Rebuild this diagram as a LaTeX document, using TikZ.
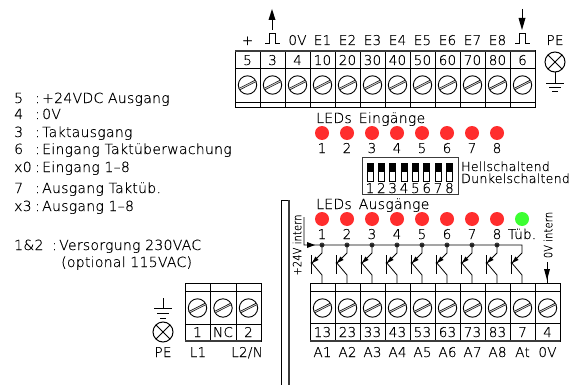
\documentclass[tikz,border=0pt]{standalone}
\usepackage{fontspec}
\setmainfont[UprightFont={* ExtraLight},UprightFeatures={FakeBold=0.35},LetterSpace=2]{DejaVu Sans}
\usetikzlibrary{calc}
\definecolor{ledred}{RGB}{255,45,45}
\definecolor{ledgreen}{RGB}{60,255,50}
\definecolor{edge}{RGB}{60,60,60}
\tikzset{
 wire/.style={line width=.8pt,black},
 lbl/.style={inner sep=0pt,text height=10pt,text depth=0pt,font=\fontsize{13.5}{14}\selectfont},
 lft/.style={lbl,anchor=west,font=\fontsize{14}{15}\selectfont},
 dipl/.style={lbl,anchor=west,font=\fontsize{12.6}{14}\selectfont},
 rot/.style={inner sep=0pt,rotate=90,font=\fontsize{11.5}{12}\selectfont},
 led/.style={circle,inner sep=0pt,minimum size=14pt,fill=ledred},
 gled/.style={led,fill=ledgreen},
 dot/.style={circle,inner sep=0pt,minimum size=5pt,fill=edge},
}
\newcommand{\screw}[2]{%
 \draw[line width=.9pt] (#1,#2) circle (9.2);
 \draw[line width=2.2pt,black] ($(#1,#2)+(-8.3,4.2)$) -- ($(#1,#2)+(8.3,-4.2)$);
 \draw[line width=.9pt,white!80!black] ($(#1,#2)+(-8,4)$) -- ($(#1,#2)+(8,-4)$);
}
\newcommand{\lamp}[2]{%
 \draw[line width=1pt] (#1,#2) circle (10);
 \draw[line width=1pt] ($(#1,#2)+(-7,-7)$) -- ($(#1,#2)+(7,7)$);
 \draw[line width=1pt] ($(#1,#2)+(-7,7)$) -- ($(#1,#2)+(7,-7)$);
}
\newcommand{\trans}[1]{%
 \draw[wire] (#1,245) -- (#1,253) -- (#1-11,264);
 \draw[wire] (#1-11,255) -- (#1-11,274);
 \draw[wire] (#1-11,262) -- (#1,275) -- (#1,283);
 \fill[black] (#1-10,263) -- (#1-3.5,260) -- (#1-6.5,256.5) -- cycle;
}
\begin{document}
\begin{tikzpicture}[x=1pt,y=-1pt,line join=miter]
\useasboundingbox (0,0) rectangle (583,385);
\fill[white] (0,0) rectangle (583,385);
% left legend
\foreach \k/\v/\y in {5/+24VDC Ausgang/98,4/0V/114,3/Taktausgang/132,6/Eingang Taktüberwachung/149,x0/Eingang 1--8/167,7/Ausgang Taktüb./188,x3/Ausgang 1--8/206}{
 \node[lft] (k\y) at (14,\y) {\k};
 \node[lft] (c\y) at (35,\y) {:};
 \node[lft] (v\y) at (42,\y) {\v};
}
\node[lft] (p0) at (14,245) {1\&2};
\node[lft] (p00) at (52,245) {:};
\node[lft] (p1) at (59,245) {Versorgung 230VAC};
\node[lft] (p2) at (61,262) {(optional 115VAC)};
% top strip
\draw[wire,line width=1pt] (235,51) rectangle (535,108);
\draw[wire] (235,68) -- (535,68);
\draw[wire] (235,102) -- (535,102);
\foreach \i in {1,...,11}{\draw[wire] (235+25*\i,51) -- (235+25*\i,108);}
\draw[edge,line width=1.2pt] (235,51) -- (535,51);
\foreach \n/\t [count=\i from 0] in {5/+,3/,4/0V,10/E1,20/E2,30/E3,40/E4,50/E5,60/E6,70/E7,80/E8,6/}{
 \pgfmathsetmacro{\cx}{247.5+25*\i}
 \node[lbl] (tn\i) at (\cx,60) {\n};
 \node[lbl] (tt\i) at (\cx,40) {\t};
 \screw{\cx}{85}
}
\draw[wire] (265,43) -- (269,43) -- (269,33) -- (275,33) -- (275,43) -- (280,43);
\draw[wire] (515,43) -- (519,43) -- (519,33) -- (525,33) -- (525,43) -- (530,43);
\draw[wire] (272,30) -- (272,14);
\fill (272,9) -- (268.5,20) -- (275.5,20) -- cycle;
\draw[wire] (522,9) -- (522,22);
\fill (522,30) -- (518.5,18) -- (525.5,18) -- cycle;
% top PE
\node[lbl] (pe1) at (555,40) {PE};
\lamp{555}{62}
\draw[wire] (555,72) -- (555,83);
\draw[wire] (546,83) -- (564,83);
\draw[wire] (549,87) -- (561,87);
\draw[wire] (552,91) -- (558,91);
% LEDs in
\node[lft] (li) at (316,118) {LEDs\hspace{7pt}Eingänge};
\foreach \i in {1,...,8}{
 \node[led] (a\i) at (297+25*\i,133) {};
 \node[lbl] (an\i) at (297+25*\i,148) {\i};
}
% DIP
\draw[edge,line width=1pt] (362,157) rectangle (458,194);
\foreach \i in {1,...,8}{
 \pgfmathsetmacro{\cx}{370+11.35*(\i-1)}
 \draw[wire] (\cx-3,163) rectangle (\cx+3,181);
 \fill (\cx-3,163) rectangle (\cx+3,172);
 \node[lbl] (d\i) at (\cx,188) {\i};
}
\node[dipl] (he) at (461,166) {Hellschaltend};
\node[dipl] (du) at (461,178) {Dunkelschaltend};
% LEDs out
\node[lft] (lo) at (316,204) {LEDs\hspace{7pt}Ausgänge};
\foreach \i in {1,...,8}{
 \node[led] (b\i) at (297+25*\i,219) {};
 \node[lbl] (bn\i) at (297+25*\i,234) {\i};
 \node[dot] (c\i) at (297+25*\i,245) {};
}
\node[gled] (bt) at (522,219) {};
\node[lbl] (btt) at (522,234) {Tüb.};
% double line
\draw[wire] (281,385) -- (281,200) -- (289,200);
\draw[edge,line width=1.3pt] (289,200) -- (289,385);
% bus
\draw[wire] (304,217) -- (304,245) -- (522,245) -- (522,253) -- (511,264);
\fill (315,245) -- (307,242) -- (307,248) -- cycle;
\foreach \i in {1,...,8}{\trans{297+25*\i}}
\draw[wire] (511,255) -- (511,274);
\draw[wire] (511,262) -- (522,275) -- (522,283);
\fill (512,263) -- (518.5,260) -- (515.5,256.5) -- cycle;
\node[rot] (p24) at (297,245) {\scalebox{.85}[1]{+24V intern}};
\node[rot] (ov) at (548,235) {\scalebox{.85}[1]{0V intern}};
\draw[wire] (547,262) -- (547,283);
\fill (547,280) -- (544,269) -- (550,269) -- cycle;
% bottom strip
\draw[wire,line width=1pt] (310,283) rectangle (560,341);
\draw[wire] (310,291) -- (560,291);
\draw[wire] (310,323) -- (560,323);
\foreach \i in {1,...,9}{\draw[wire] (310+25*\i,283) -- (310+25*\i,341);}
\draw[edge,line width=1.2pt] (310,341) -- (560,341);
\foreach \n/\t [count=\i from 0] in {13/A1,23/A2,33/A3,43/A4,53/A5,63/A6,73/A7,83/A8,7/At,4/0V}{
 \pgfmathsetmacro{\cx}{322.5+25*\i}
 \node[lbl] (bb\i) at (\cx,332) {\n};
 \node[lbl] (bl\i) at (\cx,352) {\t};
 \screw{\cx}{308}
}
% small strip
\draw[wire,line width=1pt] (185,283) rectangle (261,341);
\draw[wire] (185,291) -- (261,291);
\draw[wire] (185,324) -- (261,324);
\draw[wire] (210,283) -- (210,341);
\draw[wire] (236,283) -- (236,341);
\draw[edge,line width=1.2pt] (185,341) -- (261,341);
\foreach \n/\cx in {1/197.5,NC/223,2/248.5}{
 \node[lbl] (s\n) at (\cx,332) {\n};
 \screw{\cx}{308}
}
\node[lbl] (l1) at (198,352) {L1};
\node[lbl] (l2) at (247,352) {L2/N};
\node[lbl] (pe2) at (163,352) {PE};
\lamp{163}{332}
\draw[wire] (163,298) -- (163,308);
\draw[wire] (154,308) -- (172,308);
\draw[wire] (157,313) -- (169,313);
\draw[wire] (160,318) -- (166,318);
\end{tikzpicture}
\end{document}
